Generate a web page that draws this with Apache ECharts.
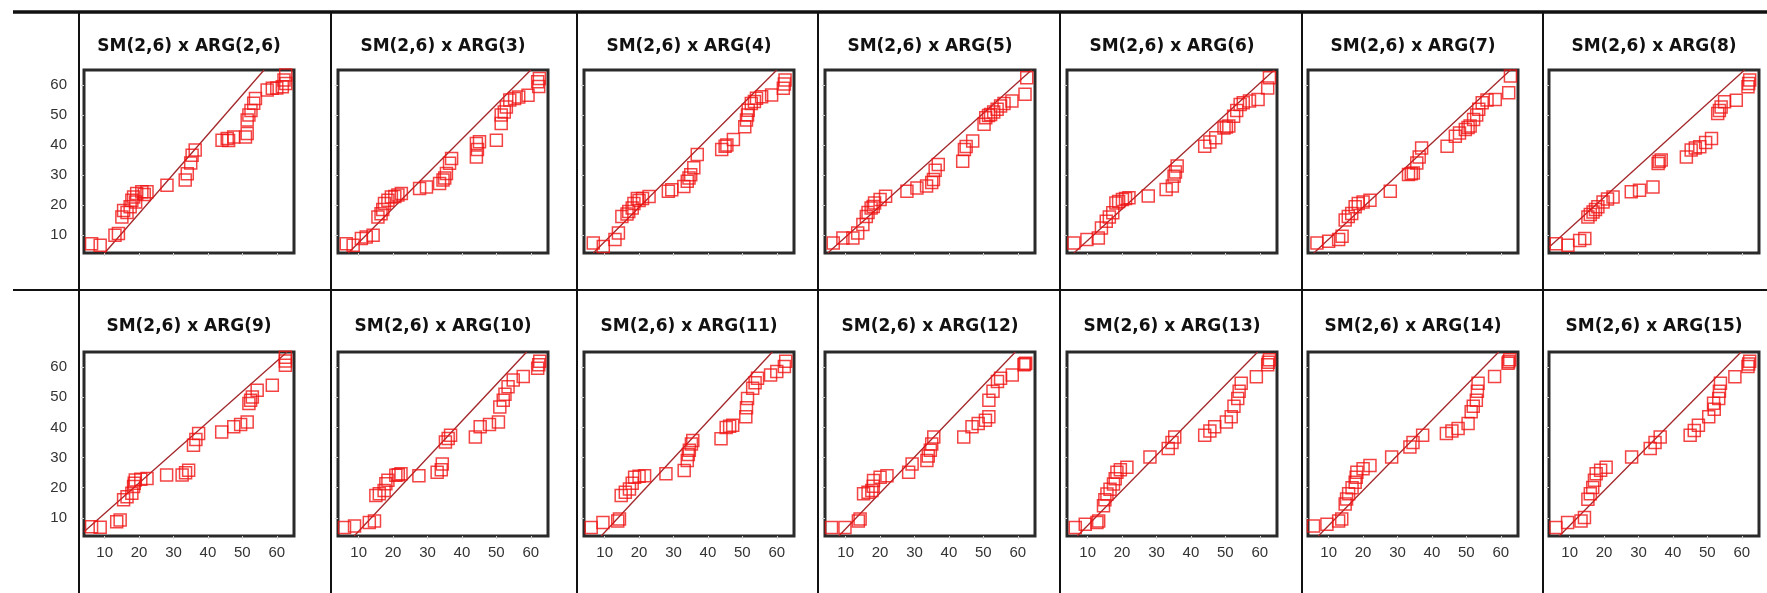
<!DOCTYPE html>
<html>
<head>
<meta charset="utf-8">
<script src="https://cdn.jsdelivr.net/npm/echarts@6/dist/echarts.min.js"></script>
<style>
  html, body { margin: 0; padding: 0; background: #fff; }
  #main { width: 1767px; height: 593px; }
</style>
</head>
<body>
<div id="main"></div>
<script>
// panel titles, top row then bottom row
const titles = [
  'SM(2,6) x ARG(2,6)', 'SM(2,6) x ARG(3)', 'SM(2,6) x ARG(4)', 'SM(2,6) x ARG(5)',
  'SM(2,6) x ARG(6)', 'SM(2,6) x ARG(7)', 'SM(2,6) x ARG(8)',
  'SM(2,6) x ARG(9)', 'SM(2,6) x ARG(10)', 'SM(2,6) x ARG(11)', 'SM(2,6) x ARG(12)',
  'SM(2,6) x ARG(13)', 'SM(2,6) x ARG(14)', 'SM(2,6) x ARG(15)'
];
const tickValues = [10, 20, 30, 40, 50, 60];

// points: [x, y]
const ptsArg26 = [[6.2,7.1],[8.7,6.6],[13,9.9],[14,10.5],[15,16],[15.5,18.2],[16.5,17.5],[17.4,19.4],[17.9,21.6],[18.4,22.7],[19,21],[19.3,23.8],[20.8,24.4],[21.5,23.5],[22.3,24.4],[28.1,26.6],[33.4,28.3],[34,30.4],[35,34],[35.4,36.6],[36.3,38.3],[44.1,41.6],[45.6,42.2],[46,41.5],[47.5,42.7],[50.9,42.7],[51.4,43.8],[51.4,48.3],[51.9,50],[52.5,51.5],[53.3,53.9],[53.8,55.5],[57.2,58.3],[58.7,58.9],[60,59],[61.6,59.4],[62.1,61.7],[62.6,60.5],[62.6,63.3]];
const ptsArg3 = [[6.4,7.1],[8.4,6.6],[10.8,8.8],[12.2,9.3],[14.2,9.9],[15.6,16],[16.5,17.1],[17,18.5],[17.5,20.5],[18.5,21.6],[19.5,22.7],[20.5,22.8],[21.4,23.3],[22.4,23.8],[27.7,25.5],[29.7,26],[33.5,27.2],[34.5,28.3],[35,29],[35.5,30.5],[36.4,33.9],[37,35.5],[44.2,36],[44.5,38.5],[44.2,40.5],[45.1,41.1],[50,41.6],[51.4,47.2],[51.4,50],[52.3,51],[52.9,52.7],[53.9,55],[55.3,55.5],[56.5,56],[59.2,56.6],[62.3,59.5],[62,61.1],[62.5,62.2]];
const ptsArg4 = [[6.7,7.3],[9.6,6.2],[13,8.5],[14,10.7],[15,16.2],[16.5,17],[17,17.8],[18,19],[18.5,20.5],[19.5,22.2],[20,21.5],[21,22.2],[22.9,22.8],[28.5,24.6],[29.5,25.1],[33,26.2],[34,27.9],[34.5,29],[35,30.1],[35.9,32.4],[36.9,36.8],[44,38.5],[45,39.6],[45.5,40],[47.4,41.8],[50.7,46.1],[51.2,48.3],[51.5,50],[51.7,51.6],[52.6,53.8],[53.5,54.5],[54.1,55.6],[55.6,56.1],[58.5,56.7],[61.9,58.9],[62.2,60.3],[62.4,61.7]];
const ptsArg5 = [[6.4,7.3],[9.2,9],[12.1,9],[13.5,10.7],[15,13.5],[16,16.2],[16.5,17.5],[17.4,19],[18,19.5],[18.4,20.7],[20,21.8],[21.6,22.9],[27.8,24.6],[30.7,25.7],[33.5,26.3],[35,27.5],[35.5,28.5],[36,31.6],[36.9,33.5],[44,34.6],[44.5,38.5],[45,39.5],[46.9,41.3],[50.2,46.9],[50.7,49.1],[51.5,49.8],[52.1,50.2],[53,51],[54,51.9],[55,53],[56,53.8],[58.3,54.7],[62.1,56.9],[62.6,62.4]];
const ptsArg6 = [[6,7.3],[9.8,8.5],[13.1,9],[14,12.3],[15.4,14.6],[16.3,16],[17.3,17.4],[18.2,20.7],[19,21.2],[20.1,21.8],[21,22.2],[22,22.4],[27.6,23],[32.8,25.2],[34.6,26.3],[35.1,29.6],[35.5,31],[36,33],[44,39.6],[45.5,41],[47.2,42.4],[49.6,45.7],[50.3,46],[51,46.3],[52.4,49.6],[53.3,51.5],[54.3,53.5],[55.2,54.1],[57,54.7],[59.5,55.2],[62.3,59],[62.8,62.4]];
const ptsArg7 = [[6.6,7.3],[10,7.9],[12.9,8.5],[13.9,9.6],[14.8,15],[15.7,16.2],[16.7,17.2],[17.7,19.4],[18.6,20.5],[20,21],[22,21.6],[27.9,24.6],[33.2,30.2],[34,30.4],[34.6,30.7],[35.6,34],[36.3,36],[37,39],[44.4,39.6],[46.8,42.9],[48,44],[49.7,45.2],[50.5,45.8],[51.1,46.3],[52.1,48.5],[53,50],[53.6,51.9],[54.6,54.1],[56,55],[58.4,55.2],[62.3,57.4],[62.8,63]];
const ptsArg8 = [[6.1,7.1],[9.5,6.6],[12.9,8.2],[14.4,8.8],[15.3,16],[16,16.8],[16.8,17.7],[17.5,18.5],[18.2,19.4],[19.7,21],[21,22],[22.6,22.7],[27.9,24.4],[30.3,24.9],[34.2,26],[35.7,33.8],[36,34.5],[36.6,35],[43.9,36],[45.3,38.3],[46.5,39],[47.8,39.4],[49.5,40.8],[51.2,42.2],[53,50.5],[53.5,51.5],[54,52.7],[55,54.4],[58.4,54.9],[61.8,59.4],[62,60.5],[62.3,61.7]];
const ptsArg9 = [[6.2,7.1],[8.7,6.9],[13.5,8.7],[14.5,9.3],[15.5,16],[16.5,17],[17.9,18.2],[18.4,20.4],[18.6,21.5],[18.9,22.6],[20.5,22.8],[22.3,23.1],[28,24.2],[32.5,24.2],[33.5,25],[34.4,25.8],[35.8,34.1],[36.5,36],[37.3,38],[44,38.5],[47.5,40.2],[49.5,41],[51.4,41.8],[51.9,47.9],[52.4,49],[52.9,50.1],[54.3,52.3],[58.7,54],[62.5,60.6],[62.5,62],[62.5,63.3]];
const ptsArg10 = [[5.9,6.8],[8.8,7.3],[13.1,8.5],[14.6,9],[15,17.4],[16,18],[17.4,19.1],[17.9,21.3],[18.5,22.5],[20.8,24.1],[21.5,24.3],[22.3,24.6],[27.5,24],[32.8,25.1],[34,26],[34.3,27.9],[35.2,35.2],[36,36.3],[36.7,37.4],[43.9,36.8],[45.3,40.2],[48,41],[50.6,41.8],[51,46.8],[52,49],[52.5,51],[53.4,53.5],[54.9,55.7],[57.8,56.9],[62,59.6],[62.3,60.8],[62.6,61.9]];
const ptsArg11 = [[6.1,6.8],[9.5,8.5],[13.8,9],[14.3,9.6],[14.8,17.4],[16,18.5],[17.2,19.6],[18,21.5],[18.7,23.5],[20,23.8],[21.6,24],[27.8,24.6],[33.1,25.7],[34,29],[34.3,31],[34.6,32.4],[35.2,34.5],[35.6,35.7],[43.8,36.2],[45.3,40],[46.3,40.4],[47.2,40.7],[51,43.5],[51.2,46.5],[51.5,49.6],[53,53],[53.7,54.8],[54.4,56.3],[58.2,57.4],[60,58.5],[62.2,60.2],[62.6,61.9]];
const ptsArg12 = [[5.9,6.8],[9.8,6.8],[13.7,9],[14.2,9.6],[15.2,18],[16.5,18.5],[17.6,19.1],[18,20.5],[18.1,22.4],[20,23.5],[22,24],[28.3,25.1],[29.3,27.9],[33.6,29],[34,30.5],[34.6,32.4],[35,34.5],[35.6,36.8],[44.3,36.8],[46.7,40.2],[48.5,41.3],[50.6,42.4],[51.6,43.5],[51.6,49],[52.8,52],[54.1,55.2],[55,56.3],[58.4,57.4],[61.8,60.8],[62,61],[62.3,61.3]];
const ptsArg13 = [[6.4,6.8],[9.3,7.9],[12.7,8.5],[13.2,9],[14.6,14],[15,16],[15.6,17.9],[16.5,19.5],[17.5,21.2],[18,23],[18.5,25.1],[19.5,26],[21.4,26.8],[28.1,30.2],[33.4,33],[34.5,35],[35.3,36.8],[44,37.4],[45.5,38.8],[46.9,40.2],[50.3,41.8],[51.7,43.5],[52.5,47],[53.6,49.6],[54,52],[54.6,54.6],[59,56.8],[62.3,60.8],[62.5,61.6],[62.8,62.4]];
const ptsArg14 = [[5.6,7.3],[9.5,7.9],[12.9,9],[13.8,9.6],[14.8,14.6],[15.2,16.3],[15.8,18],[16.8,20],[17.7,21.8],[18,23.5],[18.2,25.1],[20,26.3],[22,27.4],[28.3,30.2],[33.6,33.5],[34.5,35],[37.3,37.4],[44.2,38],[45.8,38.8],[47.6,39.6],[50.5,41.3],[51.4,45.2],[52,47],[52.9,49],[53.2,52],[53.4,54.6],[58.2,56.9],[62.1,61.3],[62.3,61.8],[62.6,62.4]];
const ptsArg15 = [[6,6.8],[9.4,8.5],[13.3,9],[14.3,10.1],[15.3,16.2],[16,18],[16.7,20.1],[17.2,22.5],[17.7,24.6],[19,25.8],[20.6,26.8],[28,30.2],[33.4,33],[34.8,35],[36.3,36.8],[45,37.4],[46.2,39],[47.4,40.7],[50.4,43.5],[51.8,48],[52,46],[53.3,49.6],[53.5,52],[53.8,54.6],[58,56.8],[61.8,60.2],[62,61],[62.3,61.9]];

const panelPoints = [ptsArg26, ptsArg3, ptsArg4, ptsArg5, ptsArg6, ptsArg7, ptsArg8,
  ptsArg9, ptsArg10, ptsArg11, ptsArg12, ptsArg13, ptsArg14, ptsArg15];

// reference line of each panel, two ends
const refLines = [
  [[10,4],[56.3,65]], [[7,4],[60,65]], [[6.7,4],[60,65]], [[4.8,4],[64,65]],
  [[6,4],[64.2,65]], [[5.7,4],[62.8,65]], [[4,5.9],[60.8,65]],
  [[4,5.4],[63,65]], [[8.7,4],[58.8,65]], [[9,4],[58.7,65]], [[8,4],[59.3,65]],
  [[7,4],[59.4,65]], [[7,4],[59.4,65]], [[7,4],[59.8,65]]
];

const boxLefts = [84, 338, 584, 825, 1067, 1308, 1549];
const boxWidth = 210;
const rowTops = [70, 352];
const rowHeights = [183, 184];
const titleTops = [38, 318];
const dividerXs = [79, 331, 577, 818, 1060, 1302, 1543];

const chart = echarts.init(document.getElementById('main'));
const font = 'Liberation Sans, Arial, sans-serif';

const grid = [], xAxis = [], yAxis = [], series = [], title = [];
panelPoints.forEach((pts, i) => {
  const row = Math.floor(i / 7), col = i % 7;
  grid.push({
    left: boxLefts[col], top: rowTops[row], width: boxWidth, height: rowHeights[row],
    show: true, borderColor: '#2a2a2a', borderWidth: 3, backgroundColor: '#fff'
  });
  xAxis.push({
    gridIndex: i, type: 'value', min: 4, max: 65,
    axisLine: { show: false }, splitLine: { show: false },
    axisTick: { show: true, customValues: tickValues, length: 3, lineStyle: { color: '#cfcfcf' } },
    axisLabel: { show: row === 1, customValues: tickValues, fontSize: 15, color: '#333', margin: 9, fontFamily: font }
  });
  yAxis.push({
    gridIndex: i, type: 'value', min: 4, max: 65,
    axisLine: { show: false }, splitLine: { show: false },
    axisTick: { show: true, customValues: tickValues, length: 3, lineStyle: { color: '#cfcfcf' } },
    axisLabel: { show: col === 0, customValues: tickValues, fontSize: 15, color: '#333', margin: 17, fontFamily: font }
  });
  series.push({
    type: 'line', xAxisIndex: i, yAxisIndex: i, data: refLines[i],
    showSymbol: false, clip: true, silent: true, z: 2,
    lineStyle: { color: '#a3262a', width: 1.3 }
  });
  series.push({
    type: 'scatter', xAxisIndex: i, yAxisIndex: i, data: pts,
    symbol: 'rect', symbolSize: 12, z: 3,
    itemStyle: { color: 'rgba(255,255,255,0)', borderColor: '#f01414', borderWidth: 1.5 }
  });
  title.push({
    text: titles[i], left: boxLefts[col] + boxWidth / 2, top: titleTops[row],
    textAlign: 'center', padding: 0,
    textStyle: { fontSize: 17, fontWeight: 'bold', color: '#111', fontFamily: 'DejaVu Sans, sans-serif' }
  });
});

const graphic = [
  { type: 'line', shape: { x1: 13, y1: 12, x2: 1767, y2: 12 }, style: { stroke: '#111', lineWidth: 3.5 } },
  { type: 'line', shape: { x1: 13, y1: 290, x2: 1767, y2: 290 }, style: { stroke: '#111', lineWidth: 2 } }
];
dividerXs.forEach(x => {
  graphic.push({ type: 'line', shape: { x1: x, y1: 12, x2: x, y2: 593 }, style: { stroke: '#111', lineWidth: 2 } });
});

chart.setOption({
  backgroundColor: '#fff',
  animation: false,
  title, grid, xAxis, yAxis, series, graphic
});
</script>
</body>
</html>
